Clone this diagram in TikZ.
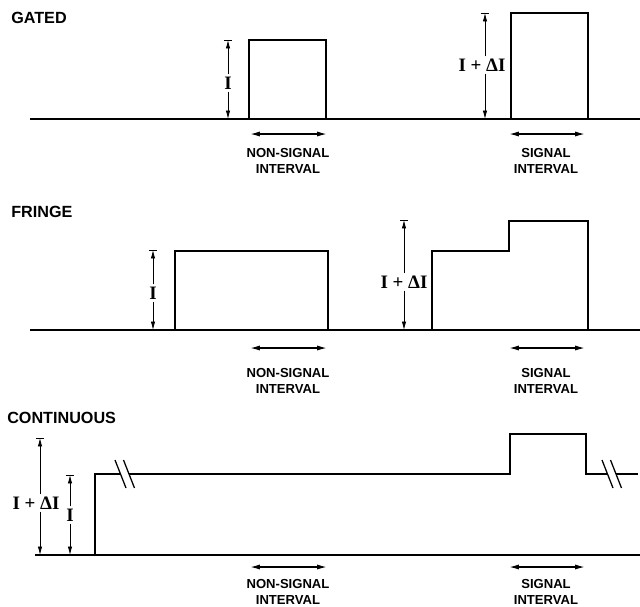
\documentclass[tikz,border=0pt]{standalone}
\usepackage{fontspec}
\setmainfont{Liberation Serif}
\setsansfont{Liberation Sans}
\usetikzlibrary{arrows.meta}

\begin{document}
\begin{tikzpicture}[x=0.025cm, y=-0.025cm,
    >={Latex[length=7pt,width=3.6pt]},
    titre/.style={anchor=west, inner sep=0pt, font=\sffamily\bfseries\fontsize{11.5}{13}\selectfont},
    intervalle/.style={align=center, inner sep=0pt, font=\sffamily\bfseries\fontsize{9.3}{11}\selectfont},
    cote/.style={inner sep=1.5pt, font=\bfseries\fontsize{13.5}{15}\selectfont},
    signal/.style={line width=1.4pt},
    base/.style={line width=1pt},
    fleche/.style={line width=0.6pt},
    duree/.style={<->, line width=1pt}]

    \useasboundingbox (0,0) rectangle (640,607);

    % Lignes de base des trois chronogrammes
    \def\yg{119}  % GATED
    \def\yf{330}  % FRINGE
    \def\yc{555}  % CONTINUOUS

    % Titres
    \node[titre] (tg) at (11,18) {GATED};
    \node[titre] (tf) at (11,212) {FRINGE};
    \node[titre] (tc) at (7,418) {CONTINUOUS};

    % Axes horizontaux
    \draw[base] (30,\yg) -- (640,\yg);
    \draw[base] (30,\yf) -- (640,\yf);
    \draw[base] (35,\yc) -- (640,\yc);

    % ==============================================
    % 1. GATED : deux impulsions separees
    % ==============================================
    \draw[signal] (249,\yg) |- (326,40) -- (326,\yg);
    \draw[signal] (511,\yg) |- (588,13) -- (588,\yg);

    % ==============================================
    % 2. FRINGE : fond I puis marche Delta I
    % ==============================================
    \draw[signal] (175,\yf) |- (328,251) -- (328,\yf);
    \draw[signal] (432,\yf) |- (509,251) |- (588,221) -- (588,\yf);

    % ==============================================
    % 3. CONTINUOUS : niveau I permanent, coupe par //
    % ==============================================
    \draw[signal] (95,\yc) |- (120.5,474);
    \draw[signal] (129,474) -- (510,474) |- (586,434) |- (607.5,474);
    \draw[signal] (616,474) -- (638,474);
    \foreach \x in {120.5,129,607.5,616}
        \draw[line width=0.9pt] (\x-5.5,460) -- (\x+5.5,488);

    % Cotes verticales : nom/x fleche/x texte/haut/bas/y texte/texte
    \foreach \n/\x/\xl/\yt/\yb/\yl/\txt in {gi/228/228/40/\yg/83/I,
                                            gd/485/482/13/\yg/65/I + ΔI,
                                            fi/153/153/250/\yf/293/I,
                                            fd/404/404/220/\yf/282/I + ΔI,
                                            cd/40/36/438/\yc/503/I + ΔI,
                                            ci/70/70/475/\yc/515/I} {
        \coordinate (\n-h) at (\x,\yt);
        \coordinate (\n-b) at (\x,\yb);
        \node[cote] (\n) at (\xl,\yl) {\txt};
        \draw[fleche,-{Latex[length=6pt,width=3.2pt]}] (\n.north -| \n-h) -- (\n-h);
        \draw[fleche,-{Latex[length=6pt,width=3.2pt]}] (\n.south -| \n-b) -- (\n-b);
        \draw[fleche] ([xshift=-3pt]\n-h) -- ([xshift=3pt]\n-h);
    }

    % Intervalles : panneau/y fleches/y texte
    \foreach \p/\ya/\yl in {g/134/161, f/348/381, c/567/592} {
        \coordinate (ns\p-a) at (250,\ya);
        \coordinate (ns\p-b) at (327,\ya);
        \coordinate (s\p-a) at (509,\ya);
        \coordinate (s\p-b) at (585,\ya);
        \draw[duree] (ns\p-a) -- (ns\p-b);
        \draw[duree] (s\p-a) -- (s\p-b);
        \node[intervalle] (ns\p) at (288,\yl) {NON-SIGNAL\\INTERVAL};
        \node[intervalle] (s\p) at (546,\yl) {SIGNAL\\INTERVAL};
    }

\end{tikzpicture}
\end{document}
